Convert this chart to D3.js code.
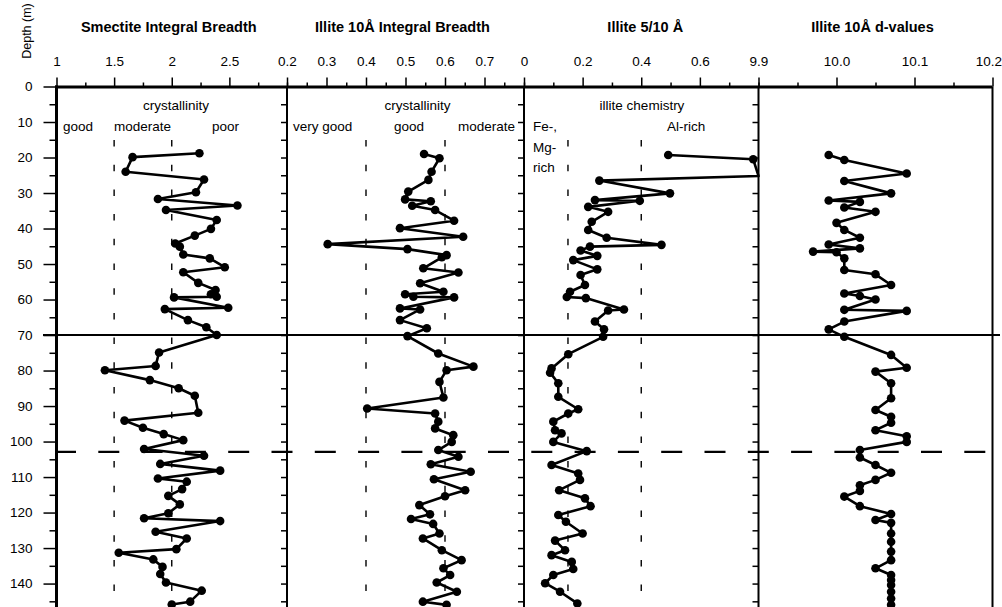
<!DOCTYPE html>
<html>
<head>
<meta charset="utf-8">
<script src="https://cdn.jsdelivr.net/npm/d3@7"></script>
<style>
	body { margin: 0; background: #fff; }
	svg { font-family: "Liberation Sans", Arial, Helvetica, sans-serif; }
</style>
</head>
<body>
<div id="chart"></div>
<script>
var smDepth = [18.8, 19.9, 24.0, 26.2, 29.8, 31.7, 33.5, 34.8, 37.6, 40.1, 42.0, 44.2, 45.1, 47.3, 48.4, 50.9, 52.3, 55.3, 57.3, 58.5, 59.2, 59.4, 62.3, 62.7, 65.8, 67.8, 70.0, 74.9, 78.7, 79.9, 82.7, 85.0, 87.1, 91.9, 94.1, 96.1, 97.9, 99.6, 102.1, 104.0, 106.3, 108.2, 110.4, 111.3, 113.4, 115.3, 117.7, 120.2, 121.6, 122.4, 125.4, 127.3, 130.3, 131.3, 133.2, 135.3, 137.3, 139.7, 142.0, 145.1, 145.9];
var smIB = [2.24, 1.66, 1.60, 2.28, 2.21, 1.88, 2.57, 1.95, 2.39, 2.34, 2.20, 2.03, 2.07, 2.10, 2.33, 2.46, 2.10, 2.23, 2.38, 2.34, 2.39, 2.02, 2.49, 1.94, 2.14, 2.30, 2.39, 1.89, 1.86, 1.42, 1.81, 2.06, 2.20, 2.23, 1.59, 1.75, 1.93, 2.10, 1.76, 2.28, 1.90, 2.42, 1.88, 2.13, 2.09, 1.97, 2.07, 1.97, 1.76, 2.42, 1.86, 2.13, 2.04, 1.54, 1.84, 1.92, 1.90, 1.95, 2.26, 2.16, 2.00];

var ilDepth = [19.0, 20.2, 24.0, 26.3, 29.6, 31.8, 32.3, 33.6, 34.8, 37.8, 39.9, 42.3, 44.4, 45.8, 47.5, 48.1, 51.2, 52.4, 55.4, 57.8, 58.5, 59.2, 59.4, 62.5, 62.8, 65.8, 68.1, 70.3, 75.2, 78.9, 79.9, 83.2, 87.6, 90.7, 92.1, 94.4, 96.3, 98.2, 100.1, 102.4, 104.3, 106.4, 108.5, 110.6, 113.7, 115.4, 117.9, 120.5, 121.8, 123.2, 125.9, 127.3, 130.6, 133.4, 135.7, 137.6, 139.7, 142.3, 145.1, 146.0];
var ilIB = [0.547, 0.586, 0.566, 0.558, 0.507, 0.499, 0.564, 0.517, 0.575, 0.623, 0.486, 0.646, 0.303, 0.505, 0.604, 0.592, 0.545, 0.634, 0.537, 0.596, 0.499, 0.520, 0.623, 0.486, 0.537, 0.486, 0.554, 0.505, 0.583, 0.672, 0.604, 0.586, 0.596, 0.403, 0.575, 0.583, 0.575, 0.621, 0.617, 0.583, 0.634, 0.564, 0.665, 0.572, 0.651, 0.600, 0.535, 0.562, 0.514, 0.570, 0.586, 0.544, 0.592, 0.642, 0.596, 0.613, 0.579, 0.630, 0.544, 0.604];

var raDepth = [19.3, 20.5, 25.2, 26.5, 30.1, 32.0, 32.2, 33.9, 35.3, 38.1, 40.4, 42.6, 44.6, 45.1, 46.2, 47.7, 48.9, 51.5, 53.1, 55.9, 57.8, 59.3, 59.6, 62.8, 63.1, 66.2, 68.4, 70.5, 75.4, 79.4, 80.6, 83.6, 87.4, 90.9, 92.1, 94.4, 96.8, 97.7, 100.1, 102.7, 106.6, 109.0, 110.8, 113.7, 116.0, 118.2, 120.7, 122.6, 125.9, 127.9, 130.6, 132.0, 133.9, 135.9, 137.6, 139.9, 142.3, 145.6];
var ilRatio = [0.492, 0.782, 0.85, 0.257, 0.498, 0.242, 0.395, 0.219, 0.287, 0.231, 0.219, 0.282, 0.469, 0.225, 0.193, 0.250, 0.168, 0.250, 0.193, 0.208, 0.157, 0.146, 0.211, 0.341, 0.287, 0.242, 0.273, 0.270, 0.151, 0.094, 0.089, 0.117, 0.117, 0.185, 0.151, 0.100, 0.106, 0.128, 0.100, 0.214, 0.094, 0.185, 0.191, 0.120, 0.208, 0.227, 0.117, 0.143, 0.200, 0.106, 0.140, 0.094, 0.163, 0.168, 0.100, 0.072, 0.123, 0.182];

var dDepth = [19.3, 20.7, 24.5, 26.6, 30.1, 32.1, 32.5, 34.1, 35.3, 38.4, 40.4, 42.6, 44.5, 45.6, 46.5, 46.7, 48.4, 51.7, 52.9, 55.9, 58.3, 59.0, 60.0, 62.9, 63.2, 66.2, 68.4, 70.5, 75.6, 79.2, 80.3, 83.6, 87.8, 91.1, 93.0, 94.7, 96.8, 98.5, 100.1, 102.4, 104.5, 106.6, 108.8, 110.8, 112.3, 113.9, 115.5, 118.2, 120.4, 122.1, 122.9, 125.9, 128.2, 131.0, 133.4, 135.7, 137.6, 139.0, 140.4, 142.3, 144.2, 146.0];
var ilD = [9.99, 10.01, 10.09, 10.01, 10.07, 9.99, 10.03, 10.01, 10.05, 10.00, 10.01, 10.03, 9.99, 10.03, 9.97, 10.00, 10.01, 10.01, 10.05, 10.07, 10.01, 10.03, 10.05, 10.01, 10.09, 10.01, 9.99, 10.01, 10.07, 10.09, 10.05, 10.07, 10.07, 10.05, 10.07, 10.07, 10.05, 10.09, 10.09, 10.03, 10.03, 10.05, 10.07, 10.05, 10.03, 10.03, 10.01, 10.03, 10.07, 10.05, 10.07, 10.07, 10.07, 10.07, 10.07, 10.05, 10.07, 10.07, 10.07, 10.07, 10.07, 10.07];

// tick labels along the top of each panel
var smTicks = [1, 1.5, 2, 2.5];
var smMinor = [1.25, 1.75, 2.25, 2.75, 3];
var ilTicks = [0.2, 0.3, 0.4, 0.5, 0.6, 0.7];
var ilMinor = [0.25, 0.35, 0.45, 0.55, 0.65, 0.75, 0.8];
var raTicks = [0, 0.2, 0.4, 0.6];
var raMinor = [0.1, 0.3, 0.5, 0.7, 0.8];
var dTicks = [9.9, 10.0, 10.1, 10.2];
var dMinor = [9.95, 10.05, 10.15];

var depthTicks = [0, 10, 20, 30, 40, 50, 60, 70, 80, 90, 100, 110, 120, 130, 140];
var depthMinor = [5, 15, 25, 35, 45, 55, 65, 75, 85, 95, 105, 115, 125, 135, 145];

var w = 1002,
	h = 607;

var svg = d3.select('#chart').append('svg').attr('width', w).attr('height', h);

var yScale = d3.scaleLinear().domain([ 0, 146.6 ]).range([ 86.5, 607 ]);
var top0 = yScale(0);

var panels = [
	{ title: 'Smectite Integral Breadth', x0: 56.5, x1: 287, domain: [ 1, 3 ], ticks: smTicks, minor: smMinor,
		fmt: d3.format(''), depth: smDepth, vals: smIB, refs: [ 1.5, 2 ] },
	{ title: 'Illite 10\u00c5 Integral Breadth', x0: 287, x1: 524, domain: [ 0.2, 0.8 ], ticks: ilTicks, minor: ilMinor,
		fmt: d3.format('.1f'), depth: ilDepth, vals: ilIB, refs: [ 0.4, 0.6 ] },
	{ title: 'Illite 5/10 \u00c5', x0: 524, x1: 758.5, domain: [ 0, 0.8 ], ticks: raTicks, minor: raMinor,
		fmt: function(d) { return d === 0 ? '0' : d3.format('.1f')(d); }, depth: raDepth, vals: ilRatio, refs: [ 0.15, 0.4 ] },
	{ title: 'Illite 10\u00c5 d-values', x0: 758.5, x1: 992.5, domain: [ 9.9, 10.2 ], ticks: dTicks, minor: dMinor,
		fmt: d3.format('.1f'), depth: dDepth, vals: ilD, refs: [] }
];

panels.forEach(function(p, i) {
	var x = d3.scaleLinear().domain(p.domain).range([ p.x0, p.x1 ]).clamp(true);
	var g = svg.append('g');

	// dashed reference lines
	p.refs.forEach(function(r) {
		g.append('line')
			.attr('x1', x(r)).attr('x2', x(r))
			.attr('y1', 140).attr('y2', h)
			.attr('stroke', '#000')
			.attr('stroke-width', 1.4)
			.attr('stroke-dasharray', '6.5,18.2');
	});

	// top axis, major + minor ticks
	var major = g.append('g').attr('transform', 'translate(0,' + top0 + ')')
		.call(d3.axisTop(x).tickValues(p.ticks).tickSize(9).tickPadding(12).tickFormat(p.fmt));
	var minor = g.append('g').attr('transform', 'translate(0,' + top0 + ')')
		.call(d3.axisTop(x).tickValues(p.minor).tickSize(4).tickFormat(''));
	[ major, minor ].forEach(function(a) {
		a.select('.domain').remove();
		a.selectAll('line').attr('stroke', '#000').attr('stroke-width', 1.5);
	});
	major.selectAll('text').attr('fill', '#000').style('font-size', '13.5px');
	if (i == 3) {
		// last label sits against the right edge
		major.selectAll('text').filter(function(d) { return d == 10.2; }).attr('text-anchor', 'end').attr('dx', 9);
	}

	// title
	g.append('text')
		.attr('x', (p.x0 + p.x1) / 2 - (i == 2 ? -4 : 3))
		.attr('y', 31.5)
		.attr('text-anchor', 'middle')
		.style('font-size', '14.5px')
		.style('font-weight', 'bold')
		.text(p.title);

	// right border ticks
	if (i < 3) {
		var rt = g.append('g').attr('transform', 'translate(' + p.x1 + ',0)')
			.call(d3.axisLeft(yScale).tickValues(d3.range(5, 146, 5)).tickSize(6).tickFormat(''));
		rt.select('.domain').remove();
		rt.selectAll('line').attr('stroke', '#000').attr('stroke-width', 1.5);
	}

	// border
	g.append('line')
		.attr('x1', p.x1).attr('x2', p.x1)
		.attr('y1', top0).attr('y2', h)
		.attr('stroke', '#000').attr('stroke-width', 2);

	// profile
	var pts = p.depth.map(function(d, k) {
		return { depth: d, v: p.vals[k] };
	});
	var line = d3.line()
		.x(function(d) { return x(d.v); })
		.y(function(d) { return yScale(d.depth); });
	g.append('path')
		.datum(pts)
		.attr('d', line)
		.attr('fill', 'none')
		.attr('stroke', '#000')
		.attr('stroke-width', 2.6)
		.attr('stroke-linejoin', 'round');
	g.selectAll('.dot')
		.data(pts.filter(function(d) { return d.v >= p.domain[0] && d.v <= p.domain[1]; }))
		.enter()
		.append('circle')
		.attr('class', 'dot')
		.attr('cx', function(d) { return x(d.v); })
		.attr('cy', function(d) { return yScale(d.depth); })
		.attr('r', 4.3)
		.attr('fill', '#000');
});

// depth axis
var yAxis = svg.append('g').attr('transform', 'translate(56.5,0)')
	.call(d3.axisLeft(yScale).tickValues(depthTicks).tickSize(13).tickPadding(11).tickFormat(d3.format('d')));
var yMinor = svg.append('g').attr('transform', 'translate(56.5,0)')
	.call(d3.axisLeft(yScale).tickValues(depthMinor).tickSize(7).tickFormat(''));
[ yAxis, yMinor ].forEach(function(a) {
	a.select('.domain').remove();
	a.selectAll('line').attr('stroke', '#000').attr('stroke-width', 1.5);
});
yAxis.selectAll('text').attr('fill', '#000').style('font-size', '13.5px');

svg.append('line')
	.attr('x1', 56.5).attr('x2', 56.5).attr('y1', top0 - 1).attr('y2', h)
	.attr('stroke', '#000').attr('stroke-width', 3);
svg.append('line')
	.attr('x1', 55).attr('x2', 992.5).attr('y1', top0 + 0.5).attr('y2', top0 + 0.5)
	.attr('stroke', '#000').attr('stroke-width', 3);

svg.append('text')
	.attr('transform', 'translate(31,31) rotate(-90)')
	.attr('text-anchor', 'middle')
	.style('font-size', '12.5px')
	.text('Depth (m)');

// unit boundaries: solid at 70 m, dashed at ~103 m
svg.append('line')
	.attr('x1', 43).attr('x2', 1000)
	.attr('y1', yScale(70)).attr('y2', yScale(70))
	.attr('stroke', '#000').attr('stroke-width', 2);
svg.append('line')
	.attr('x1', 55).attr('x2', 1000)
	.attr('y1', yScale(102.9)).attr('y2', yScale(102.9))
	.attr('stroke', '#000').attr('stroke-width', 2.4)
	.attr('stroke-dasharray', '21,22.3');

// annotations
var notes = [
	[ 'crystallinity', 176, 109.5, 'middle' ],
	[ 'good', 63, 130.5, 'start' ],
	[ 'moderate', 142.5, 130.5, 'middle' ],
	[ 'poor', 239, 130.5, 'end' ],
	[ 'crystallinity', 417.5, 109.5, 'middle' ],
	[ 'very good', 293, 130.5, 'start' ],
	[ 'good', 409, 130.5, 'middle' ],
	[ 'moderate', 515, 130.5, 'end' ],
	[ 'illite chemistry', 642, 109.5, 'middle' ],
	[ 'Fe-,', 533, 131, 'start' ],
	[ 'Mg-', 533, 152, 'start' ],
	[ 'rich', 533, 172, 'start' ],
	[ 'Al-rich', 667, 131, 'start' ]
];
svg.selectAll('.note')
	.data(notes)
	.enter()
	.append('text')
	.attr('class', 'note')
	.attr('x', function(d) { return d[1]; })
	.attr('y', function(d) { return d[2]; })
	.attr('text-anchor', function(d) { return d[3]; })
	.style('font-size', '13.5px')
	.text(function(d) { return d[0]; });
</script>
</body>
</html>
